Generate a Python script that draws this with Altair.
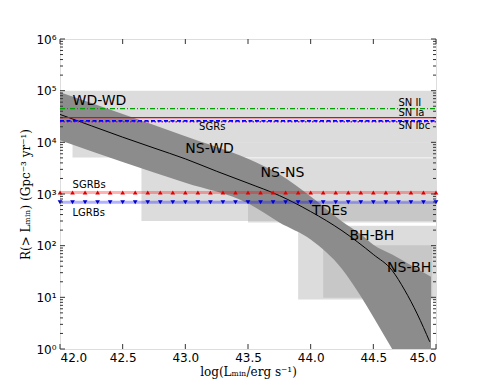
import altair as alt
import pandas as pd
import numpy as np

# ---------------- data ----------------
# shaded source boxes (log L range, rate range)
box_name = ["WD-WD", "NS-WD", "GRB", "NS-NS", "BH-BH", "NS-BH"]
box_L1 = [42.0, 42.1, 42.65, 43.5, 43.9, 44.1]
box_L2 = [45.0, 45.0, 45.0, 45.0, 45.0, 44.97]
box_R1 = [1e4, 5.1e3, 300, 280, 9.1, 9.8]
box_R2 = [1e5, 1e4, 4.9e3, 690, 243, 102]

# model band
band_L = [42.0, 42.5, 43.0, 43.5, 43.75, 44.0, 44.25, 44.4, 44.5, 44.65, 44.8, 44.96]
band_up = [4.97, 4.55, 4.12, 3.68, 3.38, 2.95, 2.47, 2.22, 2.02, 1.83, 1.62, 1.40]
band_lo = [4.04, 3.62, 3.22, 2.82, 2.45, 2.12, 1.55, 1.02, 0.62, 0.0, -0.6, -1.2]

# central curve
mid_L = [42.0, 42.25, 42.5, 42.75, 43.0, 43.25, 43.5, 43.75, 44.0, 44.25, 44.5, 44.65, 44.75, 44.85, 44.95]
mid_log = [4.54, 4.32, 4.10, 3.89, 3.68, 3.44, 3.21, 2.97, 2.66, 2.29, 1.83, 1.52, 1.14, 0.68, 0.14]

# horizontal rate lines
sn2_rate = 4.5e4
sn1a_rate = 3.0e4
sn1bc_rate = 2.6e4
sgr_rate = 2.5e4
sgrb_rate = 1.07e3
lgrb_rate = 6.9e2
marker_L = [round(42.0 + 0.1 * i, 1) for i in range(31)]

# labels
lab_text = ["WD-WD", "NS-WD", "NS-NS", "TDEs", "BH-BH", "NS-BH"]
lab_L = [42.10, 43.00, 43.60, 44.01, 44.31, 44.61]
lab_log = [4.80, 3.87, 3.41, 2.67, 2.18, 1.56]

small_text = ["SGRs", "SGRBs", "LGRBs", "SN II", "SN Ia", "SN Ibc"]
small_L = [43.11, 42.10, 42.10, 44.70, 44.70, 44.70]
small_log = [4.29, 3.17, 2.64, 4.76, 4.57, 4.31]

x_ticks = [42.0, 42.5, 43.0, 43.5, 44.0, 44.5, 45.0]
y_ticks = [1, 10, 100, 1e3, 1e4, 1e5, 1e6]
y_minor = [m * 10 ** k for k in range(6) for m in range(2, 10)]

# ---------------- chart ----------------
W, H = 376, 310
xs = alt.Scale(domain=[42.0, 45.0], nice=False, zero=False)
ys = alt.Scale(type="log", domain=[1, 1e6], nice=False)
FONT = "DejaVu Sans"
sup = "['\u2070','\u00b9','\u00b2','\u00b3','\u2074','\u2075','\u2076']"

x_axis = alt.Axis(values=x_ticks, format=".1f", ticks=False, domain=False, grid=False,
                  labelFont=FONT, labelFontSize=12, labelColor="black", labelPadding=3,
                  title="log(L\u2098\u1d62\u2099/erg s\u207b\u00b9)", titleFont="DejaVu Serif",
                  titleFontSize=12, titleFontWeight="normal", titleColor="black", titlePadding=3)
y_axis = alt.Axis(values=y_ticks, ticks=False, domain=False, grid=False,
                  labelExpr="'10' + " + sup + "[round(log(datum.value)/LN10)]",
                  labelFont=FONT, labelFontSize=12, labelColor="black", labelPadding=4,
                  title="R(> L\u2098\u1d62\u2099) (Gpc\u207b\u00b3 yr\u207b\u00b9)", titleFont="DejaVu Serif",
                  titleFontSize=12, titleFontWeight="normal", titleColor="black", titlePadding=3)


def X(f="L"):
    return alt.X(f, type="quantitative", scale=xs, axis=x_axis)


def Y(f="R"):
    return alt.Y(f, type="quantitative", scale=ys, axis=y_axis)


boxes = pd.DataFrame({"name": box_name, "L1": box_L1, "L2": box_L2, "R1": box_R1, "R2": box_R2})
box_layer = alt.Chart(boxes).mark_rect(fill="#a8a8a8", opacity=0.4).encode(
    x=X("L1"), x2="L2", y=Y("R1"), y2="R2")

band = pd.DataFrame({"L": band_L, "up": [10 ** v for v in band_up], "lo": [10 ** v for v in band_lo]})
band_layer = alt.Chart(band).mark_area(color="#8c8c8c", opacity=1, clip=True, interpolate="monotone").encode(
    x=X("L"), y=Y("up"), y2="lo")

mid = pd.DataFrame({"L": mid_L, "R": [10 ** v for v in mid_log]})
mid_layer = alt.Chart(mid).mark_line(color="black", strokeWidth=1, interpolate="monotone", clip=True).encode(
    x=X("L"), y=Y("R"))


def hline(rate, color, width, dash=None, opacity=1.0):
    df = pd.DataFrame({"L": [42.0, 45.0], "R": [rate, rate]})
    kw = dict(color=color, strokeWidth=width, opacity=opacity)
    if dash:
        kw["strokeDash"] = dash
    return alt.Chart(df).mark_line(**kw).encode(x=X("L"), y=Y("R"))


sn2 = hline(sn2_rate, "#00a000", 1.3, [5, 2, 1, 2])
sgr = hline(sgr_rate, "#c000c0", 1.5, [1.5, 2])
sn1bc = hline(sn1bc_rate, "#0000ff", 1.6, [4, 2.5])
sn1a = hline(sn1a_rate, "#ff0000", 1.2)
sgrb_line = hline(sgrb_rate, "#ff0000", 3, None, 0.3)
lgrb_line = hline(lgrb_rate, "#0000ff", 3, None, 0.3)

mk_up = pd.DataFrame({"L": marker_L, "R": [sgrb_rate] * len(marker_L)})
mk_dn = pd.DataFrame({"L": marker_L, "R": [lgrb_rate] * len(marker_L)})
sgrb_pts = alt.Chart(mk_up).mark_point(shape="triangle-up", filled=True, size=22, color="#e00000", opacity=1).encode(
    x=X("L"), y=Y("R"))
lgrb_pts = alt.Chart(mk_dn).mark_point(shape="triangle-down", filled=True, size=22, color="#0000d0", opacity=1).encode(
    x=X("L"), y=Y("R"))

labs = pd.DataFrame({"t": lab_text, "L": lab_L, "R": [10 ** v for v in lab_log]})
lab_layer = alt.Chart(labs).mark_text(align="left", baseline="middle", font=FONT, fontSize=14, color="black").encode(
    x=X("L"), y=Y("R"), text="t")

sm = pd.DataFrame({"t": small_text, "L": small_L, "R": [10 ** v for v in small_log]})
sm_layer = alt.Chart(sm).mark_text(align="left", baseline="middle", font=FONT, fontSize=10, color="black").encode(
    x=X("L"), y=Y("R"), text="t")

ymaj = pd.DataFrame({"R": y_ticks})
ymin = pd.DataFrame({"R": y_minor})
xmaj = pd.DataFrame({"L": x_ticks})
TC = "#333333"
tick_layers = [
    alt.Chart(ymaj).mark_rule(color=TC, strokeWidth=1).encode(y=Y("R"), x=alt.value(0), x2=alt.value(5)),
    alt.Chart(ymaj).mark_rule(color=TC, strokeWidth=1).encode(y=Y("R"), x=alt.value(W - 5), x2=alt.value(W)),
    alt.Chart(ymin).mark_rule(color=TC, strokeWidth=1).encode(y=Y("R"), x=alt.value(0), x2=alt.value(3)),
    alt.Chart(ymin).mark_rule(color=TC, strokeWidth=1).encode(y=Y("R"), x=alt.value(W - 3), x2=alt.value(W)),
    alt.Chart(xmaj).mark_rule(color=TC, strokeWidth=1).encode(x=X("L"), y=alt.value(H - 5), y2=alt.value(H)),
    alt.Chart(xmaj).mark_rule(color=TC, strokeWidth=1).encode(x=X("L"), y=alt.value(0), y2=alt.value(5)),
]

chart = alt.layer(
    box_layer, band_layer, mid_layer,
    sn2, sgr, sn1bc, sn1a, sgrb_line, lgrb_line, sgrb_pts, lgrb_pts,
    lab_layer, sm_layer, *tick_layers
).properties(
    width=W, height=H,
    autosize=alt.AutoSizeParams(type="none"),
    padding={"left": 52, "top": 31, "right": 41, "bottom": 35},
).configure_view(
    stroke="#444444", strokeWidth=1
).configure(background="white")

chart.save("out.html", embed_options={"renderer": "svg", "actions": False})
